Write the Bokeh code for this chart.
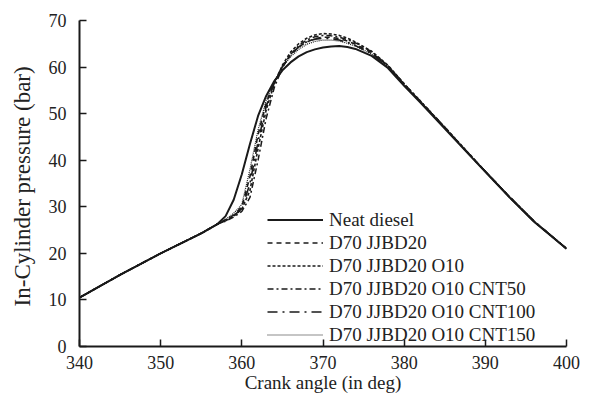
from bokeh.plotting import figure
from bokeh.models import FixedTicker, Range1d
from bokeh.embed import file_html
from bokeh.resources import INLINE

crank = [340, 345, 350, 355, 357, 358, 359, 360, 361, 362, 363, 364, 365, 366, 367, 368,
         369, 370, 371, 372, 373, 374, 376, 378, 380, 382, 385, 388, 390, 393, 396, 400]

neat = [10.5, 15.4, 20.0, 24.3, 26.3, 28.0, 31.5, 37.0, 43.5, 49.5, 53.8, 57.0, 59.3, 61.0, 62.3, 63.2,
        63.8, 64.2, 64.4, 64.5, 64.3, 63.9, 62.4, 59.8, 56.0, 52.4, 46.8, 41.2, 37.5, 32.0, 26.8, 21.0]
jjbd20 = [10.5, 15.4, 20.0, 24.3, 26.3, 27.2, 28.2, 30.0, 36.5, 45.5, 52.2, 56.8, 60.2, 62.6, 64.3, 65.4,
          66.1, 66.4, 66.4, 66.1, 65.6, 64.9, 63.1, 60.2, 56.3, 52.6, 47.0, 41.3, 37.6, 32.1, 26.9, 21.0]
o10 = [10.5, 15.4, 20.0, 24.3, 26.3, 27.0, 28.0, 29.5, 33.5, 42.5, 50.8, 56.4, 60.4, 63.2, 65.0, 66.2,
       66.9, 67.2, 67.1, 66.8, 66.2, 65.4, 63.4, 60.4, 56.4, 52.7, 47.1, 41.4, 37.6, 32.1, 26.9, 21.0]
cnt50 = [10.5, 15.4, 20.0, 24.3, 26.3, 26.9, 27.8, 29.0, 32.0, 40.0, 49.0, 55.6, 59.9, 62.7, 64.6, 65.8,
         66.5, 66.8, 66.7, 66.4, 65.9, 65.2, 63.3, 60.3, 56.4, 52.7, 47.1, 41.3, 37.6, 32.1, 26.9, 21.0]
cnt100 = [10.5, 15.4, 20.0, 24.3, 26.3, 27.1, 28.1, 29.6, 35.0, 44.0, 51.5, 56.6, 60.1, 62.6, 64.3, 65.4,
          66.0, 66.2, 66.1, 65.8, 65.3, 64.6, 62.9, 60.1, 56.2, 52.5, 47.0, 41.3, 37.6, 32.1, 26.9, 21.0]
cnt150 = [10.5, 15.4, 20.0, 24.3, 26.3, 27.3, 28.6, 30.5, 38.0, 46.5, 52.8, 57.0, 60.0, 62.2, 63.8, 64.9,
          65.5, 65.8, 65.8, 65.6, 65.1, 64.5, 62.8, 60.0, 56.1, 52.5, 46.9, 41.3, 37.5, 32.0, 26.8, 21.0]

labels = ["Neat diesel", "D70 JJBD20", "D70 JJBD20 O10", "D70 JJBD20 O10 CNT50",
          "D70 JJBD20 O10 CNT100", "D70 JJBD20 O10 CNT150"]
x_ticks = [340, 350, 360, 370, 380, 390, 400]
y_ticks = [0, 10, 20, 30, 40, 50, 60, 70]

FONT = "'Liberation Serif'"
INK = "#1a1a1a"

p = figure(width=580, height=398, output_backend="svg", toolbar_location=None,
           x_range=Range1d(340, 400), y_range=Range1d(0, 70),
           min_border_left=79, min_border_right=14, min_border_top=20, min_border_bottom=52)
p.outline_line_color = None
p.xgrid.visible = False
p.ygrid.visible = False

series = [neat, jjbd20, o10, cnt50, cnt100, cnt150]
dashes = ["solid", "5 4", "3 2", "6 3 2 3", "10 5 2 5", "1 1"]
widths = [2, 1.6, 1.6, 1.5, 1.6, 1.2]
for ys, lab, d, w in zip(series, labels, dashes, widths):
    p.line(crank, ys, line_color=INK, line_width=w, line_dash=d, legend_label=lab)

for ax in (p.xaxis[0], p.yaxis[0]):
    ax.axis_line_width = 2
    ax.axis_line_color = INK
    ax.major_tick_in = 7
    ax.major_tick_out = 0
    ax.major_tick_line_width = 1.5
    ax.major_tick_line_color = INK
    ax.minor_tick_line_color = None
    ax.major_label_text_font = FONT
    ax.major_label_text_font_size = "18px"
    ax.major_label_text_color = "#222222"
    ax.axis_label_text_font = FONT
    ax.axis_label_text_font_style = "normal"
    ax.axis_label_text_color = "#222222"

p.xaxis.ticker = FixedTicker(ticks=x_ticks)
p.yaxis.ticker = FixedTicker(ticks=y_ticks)
p.xaxis.axis_label = "Crank angle (in deg)"
p.yaxis.axis_label = "In-Cylinder  pressure (bar)"
p.xaxis.axis_label_text_font_size = "19px"
p.yaxis.axis_label_text_font_size = "23px"
p.xaxis.major_label_standoff = 9
p.xaxis.axis_label_standoff = 0
p.yaxis.major_label_standoff = 13
p.yaxis.axis_label_standoff = 11

lg = p.legend[0]
lg.location = (188, 0)
lg.border_line_color = None
lg.background_fill_alpha = 0
lg.padding = 0
lg.margin = 0
lg.spacing = 0
lg.glyph_width = 56
lg.glyph_height = 23
lg.label_height = 23
lg.label_standoff = 6
lg.label_text_font = FONT
lg.label_text_font_size = "19px"
lg.label_text_color = "#222222"

open("out.html", "w").write(file_html(p, INLINE))
